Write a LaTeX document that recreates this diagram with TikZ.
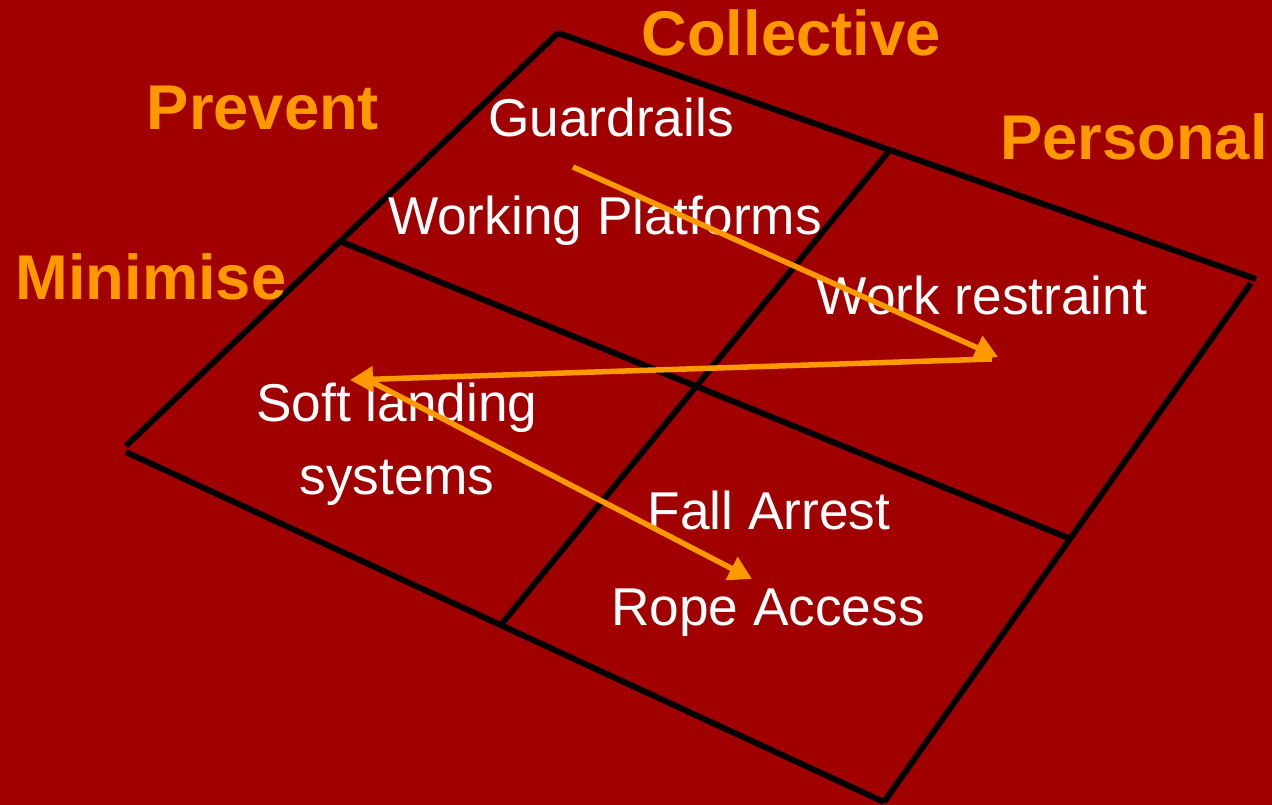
\documentclass[tikz,border=0pt]{standalone}
\usepackage{fontspec}
\setmainfont{Liberation Sans}
\usepackage{xcolor}
\usetikzlibrary{arrows.meta,positioning,calc}
\definecolor{slidered}{RGB}{160,0,0}
\definecolor{hazard}{RGB}{255,153,0}

\begin{document}
\begin{tikzpicture}[x=0.02cm, y=-0.02cm,
    gridline/.style={draw=black, line width=0.12cm, line cap=butt},
    flow/.style={draw=hazard, line width=0.11cm, -{Triangle[length=0.46cm,width=0.5cm]}},
    heading/.style={anchor=base, text=hazard, font=\fontsize{36}{40}\selectfont\bfseries, inner sep=0pt},
    measure/.style={anchor=base, text=white, font=\fontsize{30.3}{34}\selectfont, inner sep=0pt}]
    \fill [slidered] (0,0) rectangle (1272,805);
    \useasboundingbox (0,0) rectangle (1272,805);

    % corners of the grid
    \coordinate (top) at (558,33);
    \coordinate (right) at (1256,279);
    \coordinate (bottom) at (884,802);
    \coordinate (left) at (126,449);
    \coordinate (midL) at (342,242);
    \coordinate (midR) at (1071,539);
    \coordinate (midT) at (889,151);
    \coordinate (midB) at (500,626);

    \draw [gridline] (top) -- (right);
    \draw [gridline] ($(right)+(-5,4)$) -- (bottom);
    \draw [gridline] (bottom) -- ($(left)+(0,3)$);
    \draw [gridline] ($(left)+(0,-3)$) -- (top);
    \draw [gridline] (midL) -- (midR);
    \draw [gridline] (midT) -- (midB);

    % headings
    \node (collective) [heading] at (791,55) {Collective};
    \node (prevent) [heading] at (263,129) {Prevent};
    \node (personal) [heading] at (1134,159) {Personal};
    \node (minimise) [heading] at (151,299) {Minimise};

    % measures
    \node (guardrails) [measure] at (611,136) {Guardrails};
    \node (platforms) [measure] at (605,234) {Working Platforms};
    \node (restraint) [measure] at (982,314) {Work restraint};
    \node (softlanding) [measure] at (397,421) {Soft landing};
    \node (systems) [measure] at (397,494) {systems};
    \node (fallarrest) [measure] at (769,529) {Fall Arrest};
    \node (rope) [measure] at (768,625) {Rope Access};

    % sequence
    \coordinate (s0) at (573,167);
    \coordinate (s1) at (998,357);
    \coordinate (s2) at (992,359);
    \coordinate (s3) at (350,380);
    \coordinate (s4) at (370,381);
    \coordinate (s5) at (752,579);

    \draw [flow] (s0) -- (s1);
    \draw [flow] (s2) -- (s3);
    \draw [flow] (s4) -- (s5);
\end{tikzpicture}
\end{document}
